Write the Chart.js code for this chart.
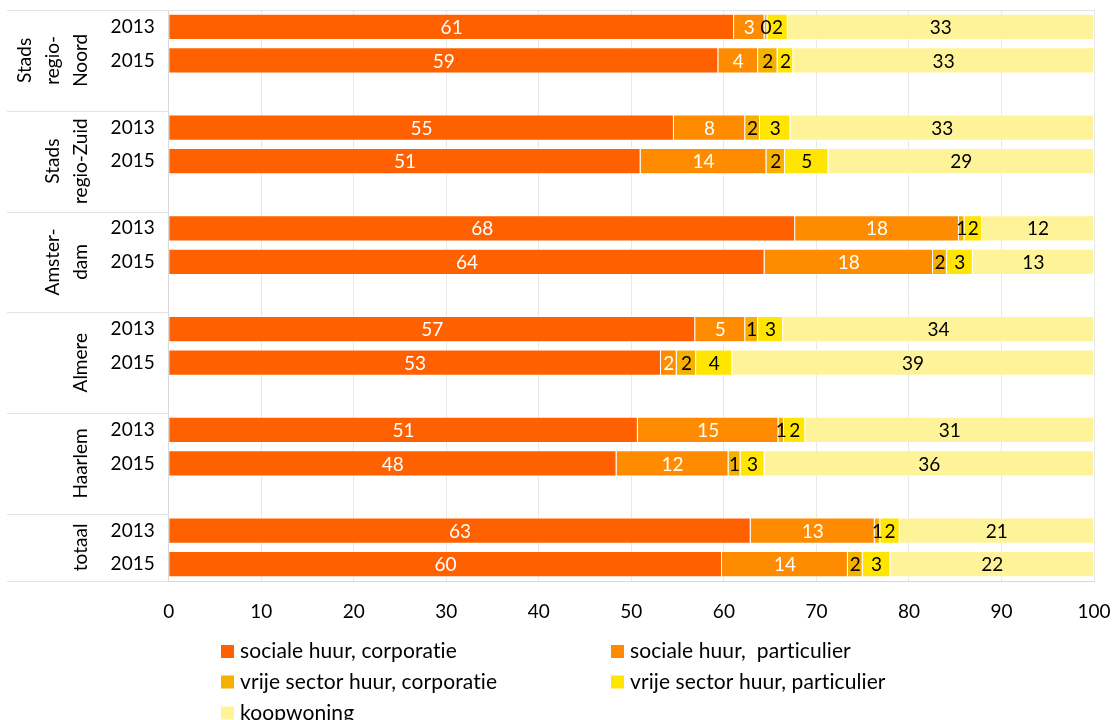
<!DOCTYPE html>
<html lang="nl">
<head>
<meta charset="UTF-8">
<title>Woningvoorraad naar eigendom</title>
<style>
    body { margin: 0; background: #fff; }
    #wrap { width: 1113px; height: 720px; }
</style>
</head>
<body>
<div id="wrap"><canvas id="grafico" width="1113" height="720"></canvas></div>

<script src="https://cdn.jsdelivr.net/npm/chart.js"></script>
<script>
    // regio's (regels van het gedraaide label) en jaren
    var regios = [['Stads', 'regio-', 'Noord'], ['Stads', 'regio-Zuid'], ['Amster-', 'dam'], ['Almere'], ['Haarlem'], ['totaal']];
    var jaren = ['2013', '2015'];

    // percentages per regio/jaar: N13, N15, Z13, Z15, A13, A15, Al13, Al15, H13, H15, t13, t15
    var socCorp  = [61.1, 59.4, 54.6, 51.0, 67.7, 64.4, 56.9, 53.2, 50.7, 48.4, 62.9, 59.8];
    var socPart  = [3.3, 4.3, 7.7, 13.6, 17.7, 18.2, 5.4, 1.7, 15.2, 12.1, 13.4, 13.6];
    var vrijCorp = [0.3, 2.1, 1.6, 2.0, 0.6, 1.5, 1.4, 2.1, 0.6, 1.3, 0.6, 1.6];
    var vrijPart = [2.2, 1.7, 3.3, 4.7, 1.9, 2.8, 2.7, 3.9, 2.3, 2.6, 2.1, 3.0];
    var koop     = [33.1, 32.5, 32.8, 28.7, 12.1, 13.1, 33.6, 39.1, 31.2, 35.6, 21.0, 22.0];

    var xTicks = [0, 10, 20, 30, 40, 50, 60, 70, 80, 90, 100];

    var series = [
        { label: 'sociale huur, corporatie', data: socCorp, kleur: '#FF6000', tekst: '#fff' },
        { label: 'sociale huur,  particulier', data: socPart, kleur: '#FF8C00', tekst: '#fff' },
        { label: 'vrije sector huur, corporatie', data: vrijCorp, kleur: '#F5B000', tekst: '#000' },
        { label: 'vrije sector huur, particulier', data: vrijPart, kleur: '#FFE500', tekst: '#000' },
        { label: 'koopwoning', data: koop, kleur: '#FFF399', tekst: '#000' }
    ];

    var FONT = 'Lato';

    // rijen opbouwen: 2013, 2015 en een lege rij tussen de groepen
    var rijLabels = [];
    var rijIndex = []; // rij -> index in de reeksen (of null)
    regios.forEach(function(r, i) {
        jaren.forEach(function(j, k) {
            rijLabels.push(j);
            rijIndex.push(i * jaren.length + k);
        });
        if (i < regios.length - 1) {
            rijLabels.push('');
            rijIndex.push(null);
        }
    });

    function rijData(arr) {
        return rijIndex.map(function(idx) { return idx === null ? null : arr[idx]; });
    }

    // waarden midden in elk segment
    var waardeLabels = {
        id: 'waardeLabels',
        afterDatasetsDraw: function(chart) {
            var ctx = chart.ctx;
            ctx.save();
            ctx.font = '19px ' + FONT;
            ctx.textAlign = 'center';
            ctx.textBaseline = 'middle';
            chart.data.datasets.forEach(function(ds, d) {
                var meta = chart.getDatasetMeta(d);
                meta.data.forEach(function(bar, i) {
                    var v = ds.data[i];
                    if (v === null || v === undefined) return;
                    ctx.fillStyle = series[d].tekst;
                    ctx.fillText(Math.round(v), (bar.x + bar.base) / 2, bar.y + 1);
                });
            });
            ctx.restore();
        }
    };

    // regionamen, scheidingslijnen en legenda
    var extraTekening = {
        id: 'extraTekening',
        afterDraw: function(chart) {
            var ctx = chart.ctx;
            var ca = chart.chartArea;
            var y = chart.scales.y;
            var rijH = (ca.bottom - ca.top) / rijLabels.length;
            ctx.save();

            // lijnen
            ctx.strokeStyle = '#e3e3e3';
            ctx.lineWidth = 1;
            ctx.beginPath();
            ctx.moveTo(7, ca.top + 0.5);
            ctx.lineTo(ca.right, ca.top + 0.5);
            var grenzen = [];
            regios.forEach(function(r, i) {
                var start = i * (jaren.length + 1);
                var top = y.getPixelForValue(start) - rijH / 2;
                var eind = start + jaren.length - 1;
                var bodem = i < regios.length - 1 ? y.getPixelForValue(eind + 1) + rijH / 2 : ca.bottom;
                grenzen.push([top, bodem]);
                ctx.moveTo(7, Math.round(bodem) + 0.5);
                ctx.lineTo(ca.left, Math.round(bodem) + 0.5);
            });
            ctx.stroke();

            // gedraaide regionamen
            ctx.fillStyle = '#000';
            ctx.font = '19px ' + FONT;
            ctx.textAlign = 'center';
            ctx.textBaseline = 'alphabetic';
            regios.forEach(function(regels, i) {
                var midden = (grenzen[i][0] + grenzen[i][1]) / 2;
                regels.forEach(function(t, j) {
                    ctx.save();
                    ctx.translate(87 - (regels.length - 1 - j) * 28, midden);
                    ctx.rotate(-Math.PI / 2);
                    ctx.fillText(t, 0, 0);
                    ctx.restore();
                });
            });

            // legenda in twee kolommen
            var kolX = [221, 611];
            var rijY = [651.5, 682, 713];
            ctx.font = '21px ' + FONT;
            ctx.letterSpacing = '0.1px'; // geen 'ti'-ligatuur
            ctx.textAlign = 'left';
            ctx.textBaseline = 'middle';
            series.forEach(function(s, i) {
                var kx = kolX[i % 2];
                var ky = rijY[Math.floor(i / 2)];
                ctx.fillStyle = s.kleur;
                ctx.fillRect(kx, ky - 6.5, 13, 13);
                ctx.fillStyle = '#000';
                ctx.fillText(s.label, kx + 19, ky);
            });
            ctx.restore();
        }
    };

    new Chart(document.getElementById('grafico'), {
        type: 'bar',
        data: {
            labels: rijLabels,
            datasets: series.map(function(s) {
                return {
                    label: s.label,
                    data: rijData(s.data),
                    backgroundColor: s.kleur,
                    borderColor: 'rgba(255,255,255,0.35)',
                    borderWidth: 1,
                    categoryPercentage: 0.78,
                    barPercentage: 1
                };
            })
        },
        options: {
            indexAxis: 'y',
            responsive: false,
            animation: false,
            layout: { padding: { top: 10, right: 19, left: 0, bottom: 0 } },
            scales: {
                x: {
                    stacked: true,
                    min: 0,
                    max: 100,
                    afterBuildTicks: function(s) {
                        s.ticks = xTicks.map(function(v) { return { value: v }; });
                    },
                    afterFit: function(s) {
                        s.height = 139;
                        s.paddingLeft = 0;
                        s.paddingRight = 0;
                    },
                    grid: { color: '#e8e8e8', drawTicks: false },
                    border: { color: '#d9d9d9' },
                    ticks: { color: '#000', padding: 19, font: { family: FONT, size: 19 } }
                },
                y: {
                    stacked: true,
                    afterFit: function(s) {
                        s.width = 168.7;
                        s.paddingTop = 0;
                        s.paddingBottom = 0;
                    },
                    grid: { display: false, drawTicks: false },
                    border: { color: '#d9d9d9' },
                    ticks: { color: '#000', padding: 14, font: { family: FONT, size: 19 } }
                }
            },
            plugins: {
                legend: { display: false },
                tooltip: { enabled: false }
            }
        },
        plugins: [waardeLabels, extraTekening]
    });
</script>
</body>
</html>
